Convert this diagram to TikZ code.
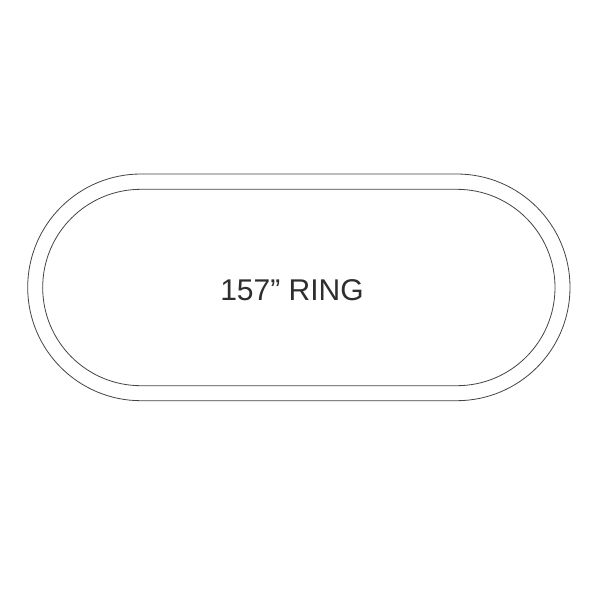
\documentclass[tikz,border=0pt]{standalone}
\usepackage{fontspec}
\setmainfont{Liberation Sans}
\definecolor{ringline}{HTML}{444444}
\definecolor{ringtext}{HTML}{2E2E2E}
\begin{document}
\begin{tikzpicture}[x=1pt,y=-1pt,
  ringstroke/.style={draw=ringline,line width=0.8pt}]
\useasboundingbox[fill=white] (0,0) rectangle (600,600);
\draw[ringstroke,rounded corners=113.3pt] (27.7,174) rectangle (570,400.7);
\draw[ringstroke,rounded corners=98.2pt] (42.7,189.3) rectangle (555,385.7);
\node[anchor=base,text=ringtext,font=\fontsize{30}{36}\selectfont,inner sep=0pt] (label) at (292,300) {157” RING};
\end{tikzpicture}
\end{document}
